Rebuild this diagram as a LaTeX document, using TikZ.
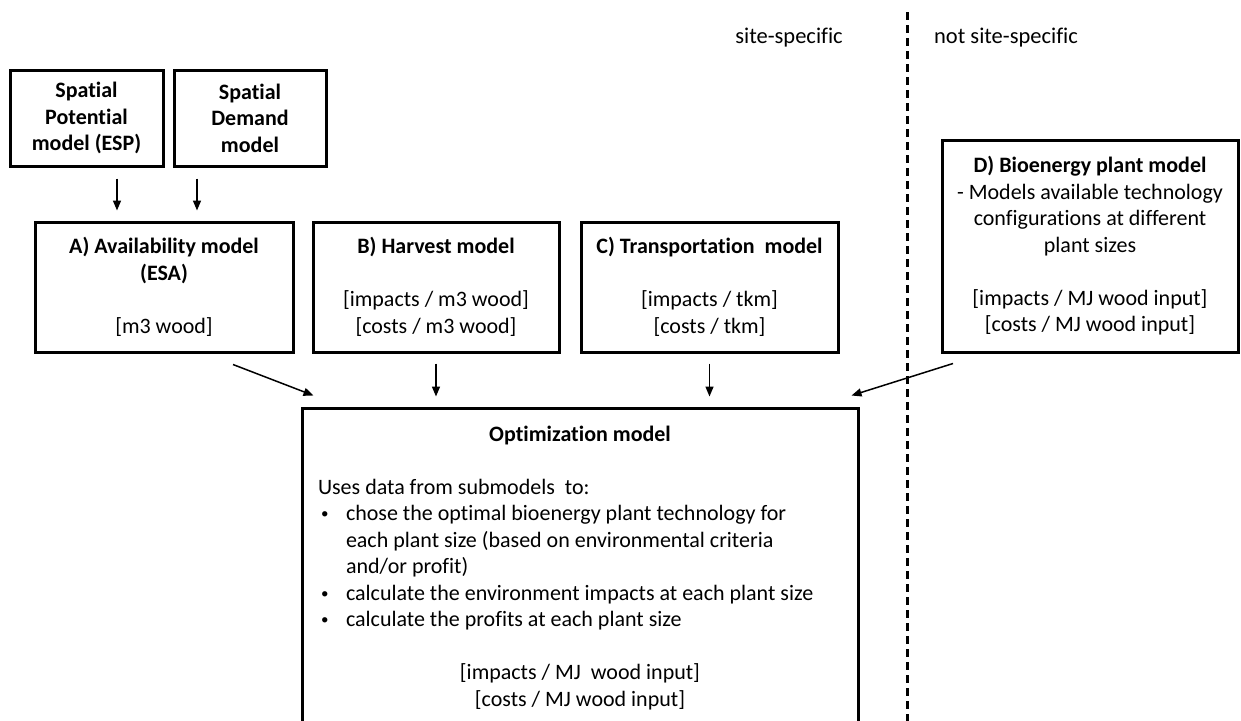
\documentclass[tikz,border=0pt]{standalone}
\usepackage{fontspec}
\setmainfont{Carlito}[Ligatures=NoCommon]
\usetikzlibrary{arrows.meta}

\newcommand{\bul}{\par\hangindent=28pt\hangafter=1\noindent\makebox[28pt][l]{\hspace{3pt}\raisebox{2pt}{\fontsize{15}{15}\selectfont\textbullet}}}

\begin{document}
\begin{tikzpicture}[x=1pt,y=-1pt,
    box/.style={draw,line width=3pt,inner sep=0pt,align=center,
        font=\fontsize{22}{26.5}\selectfont},
    arr/.style={line width=1.5pt,-{Triangle[length=10pt,width=8pt]}}]
    \useasboundingbox (0,0) rectangle (1241,720);
    % spatial input models
    \node (SP) at (86.5,118) [box,minimum width=153pt,minimum height=96pt] {\textbf{Spatial}\\\textbf{Potential}\\\textbf{model (ESP)}};
    \node (SD) at (250,118) [box,minimum width=152pt,minimum height=96pt] {\textbf{Spatial}\\\textbf{Demand}\\\textbf{model}};
    % submodels
    \node (A) at (164,287) [box,minimum width=258pt,minimum height=130pt] {\textbf{A) Availability model}\\\textbf{(ESA)}\\[26.5pt]{[}m3 wood{]}};
    \node (B) at (436,287) [box,minimum width=246pt,minimum height=130pt] {\textbf{B) Harvest model}\\[26.5pt]{[}impacts / m3 wood{]}\\{[}costs / m3 wood{]}};
    \node (C) at (709.5,287) [box,minimum width=257pt,minimum height=130pt] {\textbf{C) Transportation~ model}\\[26.5pt]{[}impacts / tkm{]}\\{[}costs / tkm{]}};
    \node (D) at (1090,246) [box,minimum width=296pt,minimum height=212pt] {\textbf{D) Bioenergy plant model}\\- Models available technology\\configurations at different\\plant sizes\\[26.5pt]{[}impacts / MJ wood input{]}\\{[}costs / MJ wood input{]}};
    % optimization
    \node (Opt) at (580,568) [box,minimum width=556pt,minimum height=320pt,text width=524pt,align=left] {%
        \spaceskip=0pt\xspaceskip=0pt
        \centering\textbf{Optimization model}\par
        \vspace{26.5pt}%
        \raggedright Uses data from submodels\ \ to:
        \bul chose the optimal bioenergy plant technology for\newline each plant size (based on environmental criteria\newline and/or profit)
        \bul calculate the environment impacts at each plant size
        \bul calculate the profits at each plant size\par
        \vspace{26.5pt}%
        \centering{[}impacts / MJ\ \ wood input{]}\par
        {[}costs / MJ wood input{]}\par};
    \draw[arr] ([xshift=30.5pt,yshift=-11pt]SP.south) -- ([xshift=-47pt,yshift=10pt]A.north);
    \draw[arr] ([xshift=-53pt,yshift=-11pt]SD.south) -- ([xshift=33pt,yshift=10pt]A.north);
    \draw[arr] ([xshift=69pt,yshift=-11pt]A.south) -- ([xshift=13pt,yshift=11pt]Opt.north west);
    \draw[arr] ([yshift=-10pt]B.south) -- ([xshift=-144pt,yshift=10pt]Opt.north);
    \draw[arr] ([yshift=-10pt]C.south) -- ([xshift=129.5pt,yshift=10pt]Opt.north);
    \draw[arr] ([xshift=-137pt,yshift=-10pt]D.south) -- ([xshift=-8pt,yshift=11pt]Opt.north east);
    % site border
    \coordinate (Lt) at (907,12);
    \coordinate (Lb) at (907,722);
    \draw[line width=3pt,dash pattern=on 8pt off 5pt] (Lt) -- (Lb);
    \node (S) at (789,38) [font=\fontsize{22.5}{26}\selectfont] {site-specific};
    \node (N) at (1006,38) [font=\fontsize{22.5}{26}\selectfont] {not site-specific};
\end{tikzpicture}
\end{document}
